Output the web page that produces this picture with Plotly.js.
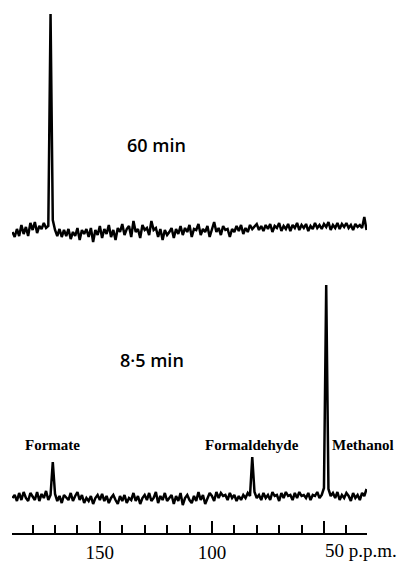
<!DOCTYPE html>
<html>
<head>
<meta charset="utf-8">
<script src="https://cdn.plot.ly/plotly-3.0.1.min.js"></script>
<style>html,body{margin:0;padding:0;background:#fff;}#chart{width:398px;height:564px;}</style>
</head>
<body>
<div id="chart"></div>
<script>
// Chemical shift grid: first point (p.p.m.) and step, points every 1 p.p.m. from 189 down to 31
const ppmStart = 189;
const ppmStep = -1;

// 60 min spectrum (intensity, arbitrary units), 189 -> 31 p.p.m.
const spectrum60 = [
  0,-5,3,-4,7,-2,5,-4,9,2,        // 189-180
  10,-1,6,3,9,4,6,218,12,2,       // 179-170 (formate 172)
  -4,3,-5,2,-4,3,-7,0,-4,4,       // 169-160
  -8,2,-2,3,-5,4,-10,2,-3,6,      // 159-150
  -6,3,-2,7,-5,2,-8,4,0,8,        // 149-140
  -3,3,6,-5,11,0,3,-6,7,2,        // 139-130
  4,-3,11,2,4,-5,3,-8,2,-3,       // 129-120
  0,4,-6,3,-2,6,-3,4,0,7,         // 119-110
  -5,3,2,8,-3,3,0,6,-5,4,         // 109-100
  10,0,4,-3,6,2,3,-5,3,0,         // 99-90
  6,1,7,-2,4,0,7,3,6,8,           // 89-80
  2,6,1,7,3,8,0,6,4,9,            // 79-70
  1,6,3,8,1,7,4,9,2,7,            // 69-60
  4,8,1,6,3,9,4,7,3,8,            // 59-50
  5,10,2,7,4,9,3,8,5,9,           // 49-40
  4,7,2,8,5,7,4,15,2              // 39-31
];

// 8.5 min spectrum, 189 -> 31 p.p.m.
const spectrum85 = [
  0,3,-3,5,-2,6,0,-3,5,1,         // 189-180
  -2,6,-3,4,0,7,-2,3,36,4,        // 179-170 (formate 171)
  -3,2,-5,3,0,-2,5,-3,2,6,        // 169-160
  -2,3,-5,0,-3,2,-6,0,3,-2,       // 159-150
  4,-3,2,-5,0,3,-2,-6,2,-3,       // 149-140
  3,-5,0,-2,5,-3,2,-6,0,3,        // 139-130
  -2,5,-3,0,6,-5,2,-2,5,-3,       // 129-120
  0,3,-6,2,-3,5,-7,0,3,-2,        // 119-110
  -5,2,-3,6,-2,3,-6,0,5,2,        // 109-100
  -3,6,0,5,2,3,-2,5,0,3,          // 99-90
  -3,2,-2,3,0,5,2,41,6,0,         // 89-80 (formaldehyde 82)
  3,-2,5,0,3,-2,6,2,3,-3,         // 79-70
  5,0,6,2,3,-2,5,0,6,2,           // 69-60
  3,0,5,-2,3,2,6,0,3,10,          // 59-50
  213,9,2,5,0,6,-2,3,0,5,         // 49-40 (methanol 49)
  2,-3,5,0,3,-2,5,2,9             // 39-31
];

// Axis ticks
const majorTickVals = [150, 100, 50];
const majorTickText = ['150', '100', ''];
const unitLabel = '50 p.p.m.';

// Labels
const spectrumLabels = ['60 min', '8\u00b75 min'];
const peakNames = ['Formate', 'Formaldehyde', 'Methanol'];
const peakPpm = [171, 82, 47.5];

const lineStyle = {color: '#000', width: 2.5};

const traces = [
  {type: 'scatter', mode: 'lines', x0: ppmStart, dx: ppmStep, y: spectrum60,
   xaxis: 'x', yaxis: 'y', line: lineStyle, hoverinfo: 'skip', showlegend: false},
  {type: 'scatter', mode: 'lines', x0: ppmStart, dx: ppmStep, y: spectrum85,
   xaxis: 'x', yaxis: 'y2', line: lineStyle, hoverinfo: 'skip', showlegend: false}
];

const serif = 'Liberation Serif, Times New Roman, serif';
const sans = 'Open Sans, Liberation Sans, sans-serif';

const annotations = [
  {text: spectrumLabels[0], xref: 'paper', yref: 'paper', x: 0.408, y: 0.743,
   showarrow: false, xanchor: 'center', yanchor: 'middle',
   font: {family: sans, size: 18, color: '#000', weight: 600}},
  {text: spectrumLabels[1], xref: 'paper', yref: 'paper', x: 0.394, y: 0.362,
   showarrow: false, xanchor: 'center', yanchor: 'middle',
   font: {family: sans, size: 18, color: '#000', weight: 600}},
  {text: peakNames[0], xref: 'x', yref: 'paper', x: peakPpm[0], y: 0.211,
   showarrow: false, xanchor: 'center', yanchor: 'middle',
   font: {family: serif, size: 15, color: '#000', weight: 'bold'}},
  {text: peakNames[1], xref: 'x', yref: 'paper', x: peakPpm[1], y: 0.211,
   showarrow: false, xanchor: 'center', yanchor: 'middle',
   font: {family: serif, size: 15, color: '#000', weight: 'bold'}},
  {text: peakNames[2], xref: 'x', yref: 'paper', x: peakPpm[2], y: 0.211,
   showarrow: false, xanchor: 'left', yanchor: 'middle',
   font: {family: serif, size: 15, color: '#000', weight: 'bold'}},
  {text: unitLabel, xref: 'x', yref: 'paper', x: 50.5, y: 0.024,
   showarrow: false, xanchor: 'left', yanchor: 'middle',
   font: {family: serif, size: 19, color: '#000'}}
];

const layout = {
  width: 398, height: 564,
  margin: {l: 12, r: 31, t: 0, b: 0},
  paper_bgcolor: '#fff', plot_bgcolor: '#fff',
  showlegend: false,
  xaxis: {
    range: [189.2, 30.8], anchor: 'free', position: 0.0532,
    showgrid: false, zeroline: false, automargin: false,
    showline: true, linecolor: '#000', linewidth: 2,
    ticks: 'inside', ticklen: 12, tickwidth: 2, tickcolor: '#000',
    tickmode: 'array', tickvals: majorTickVals, ticktext: majorTickText,
    ticklabelstandoff: 1,
    tickfont: {family: serif, size: 19, color: '#000'},
    minor: {ticks: 'inside', dtick: 10, tick0: 0, ticklen: 8, tickwidth: 2, tickcolor: '#000', showgrid: false}
  },
  yaxis: {domain: [0.5, 1], range: [-50, 232], visible: false, fixedrange: true},
  yaxis2: {domain: [0, 0.5], range: [-66, 216], visible: false, fixedrange: true},
  annotations: annotations
};

Plotly.newPlot('chart', traces, layout, {staticPlot: true, displayModeBar: false});
</script>
</body>
</html>
